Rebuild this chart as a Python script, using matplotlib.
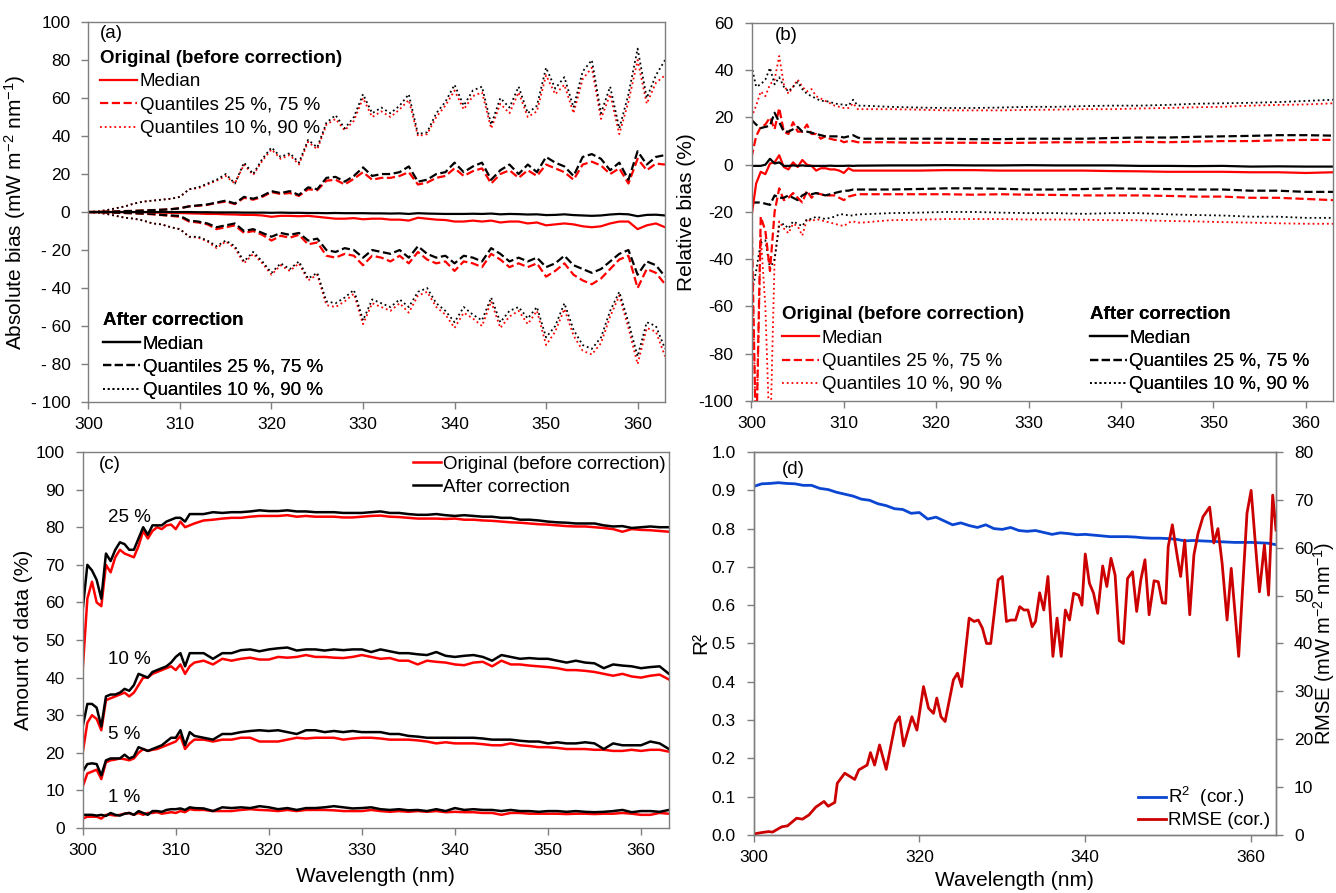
import numpy as np
import matplotlib
matplotlib.use('Agg')
import matplotlib.pyplot as plt
from matplotlib.lines import Line2D

plt.rcParams['font.family'] = ['Liberation Sans', 'DejaVu Sans']
plt.rcParams['mathtext.default'] = 'regular'
plt.rcParams['axes.unicode_minus'] = False

# ---------------- data: panel (a) absolute bias, 1 nm steps ----------------
wl_a = np.arange(300, 364)
a_q90_cor = [0, 0.3, 1, 2, 3, 4.5, 5.5, 6, 6.5, 7,
             8, 12, 13, 15, 17, 20, 15, 26, 20, 28,
             34, 29, 31, 26, 38, 34, 47, 51, 44, 50,
             62, 52, 55, 52, 56, 62, 41, 42, 52, 58,
             67, 56, 64, 66, 46, 60, 55, 66, 52, 56,
             76, 65, 71, 55, 74, 80, 52, 66, 44, 62,
             86, 60, 72, 80]
a_q90_orig = [0, 0.3, 1, 2, 3, 4.5, 5.5, 6, 6.5, 7,
              8, 12, 12.5, 14.5, 16.5, 19, 15, 25, 19.5, 27,
              33, 28, 30, 25, 37, 33, 46, 49, 43, 48,
              60, 50, 53, 50, 54, 59, 40, 41, 50, 56,
              64, 54, 61, 63, 44, 57, 52, 63, 50, 53,
              72, 62, 67, 52, 70, 76, 49, 62, 41, 58,
              80, 57, 68, 72]
a_q75_cor = [0, 0, 0.2, 0.3, 0.5, 0.6, 0.8, 1, 1.2, 1.5,
             2, 3, 3.5, 4, 5, 6, 4.5, 8, 7, 8.5,
             11, 10, 11, 9, 13, 12, 18, 18.5, 16, 19,
             23.5, 19, 20, 20, 21, 24, 16, 17, 20, 21,
             26, 21, 24, 26, 17, 22, 25, 20, 25, 21,
             29, 26, 24, 19, 29, 30.5, 28, 22, 26, 17,
             32, 25, 29, 30]
a_q75_orig = [0, 0, 0.2, 0.3, 0.5, 0.6, 0.8, 1, 1.2, 1.5,
              2, 3, 3.3, 3.8, 4.8, 5.5, 4.2, 7.5, 6.5, 8,
              10.5, 9.5, 10, 8.5, 12, 11.5, 16.5, 17, 14.5, 17.5,
              21, 17, 18, 18, 19, 21, 14.5, 15.5, 18, 19,
              23, 19, 21.5, 23, 15, 20, 22, 18, 22, 19,
              25, 23, 21, 17, 25, 26.5, 24.5, 20, 23, 15,
              28, 22, 25.5, 25]
a_q25_cor = [0, 0, -0.2, -0.3, -0.5, -0.6, -0.8, -1, -1.5, -1.8,
             -2, -4.5, -5, -6, -8, -7, -6, -10, -9, -11,
             -13, -11, -12, -11, -15, -14, -20, -21, -19, -20,
             -24, -20, -21, -22, -20, -24, -18, -22, -24, -23,
             -27, -23, -24, -26, -19, -22, -26, -24, -26, -24,
             -29, -27, -23, -28, -30, -32, -30, -26, -22, -20,
             -33, -26, -28, -34]
a_q25_orig = [0, 0, -0.2, -0.3, -0.5, -0.7, -0.9, -1.2, -1.6, -2,
              -2.5, -5, -5.5, -6.5, -9, -8, -7, -11, -10, -12,
              -15, -12.5, -13.5, -12, -17, -16, -23, -24, -22, -23,
              -28, -23, -24, -26, -23, -27, -21, -25, -27, -26,
              -31, -26, -27, -29, -22, -25, -29, -27, -29, -27,
              -34, -31, -27, -33, -36, -38, -35, -30, -25, -23,
              -40, -30, -32, -38]
a_q10_cor = [0, -0.3, -1, -2, -3, -3.5, -4.5, -6, -6.5, -8,
             -9, -13, -13, -15, -18, -15, -18, -26, -21, -26,
             -32, -27, -30, -26, -35, -32, -47, -48, -45, -41,
             -57, -46, -48, -50, -46, -50, -42, -40, -48, -52,
             -58, -50, -54, -57, -45, -58, -52, -50, -56, -50,
             -66, -60, -48, -62, -70, -72, -66, -52, -42, -58,
             -76, -58, -60, -72]
a_q10_orig = [0, -0.3, -1, -2, -3, -3.5, -4.5, -6, -6.5, -8,
              -9, -13, -13.5, -15.5, -19, -15.5, -19, -27, -22, -27,
              -33, -28, -31, -27, -36, -33, -49, -50, -47, -43,
              -59, -48, -50, -52, -48, -53, -44, -42, -50, -54,
              -61, -53, -56, -60, -47, -61, -55, -52, -59, -52,
              -70, -63, -51, -65, -73, -75, -69, -55, -44, -61,
              -80, -61, -63, -76]
a_med_orig = [0, 0, 0, 0, 0, 0, 0, -0.2, -0.3, -0.4,
              -0.5, -0.7, -0.8, -1, -1, -1.2, -1.3, -1.5, -1.5, -1.8,
              -2.5, -2, -2, -2.2, -2, -2.5, -3, -3.5, -3.5, -3.2,
              -3.8, -3.5, -3.5, -4, -4, -4.5, -3, -3.5, -4, -4.2,
              -5, -5, -4.5, -5, -4.5, -5.5, -5, -5, -6, -5.5,
              -7, -6.5, -6, -6.5, -7.5, -8, -7.5, -6, -5, -5,
              -9, -7, -6, -8]
a_med_cor = [0, 0, 0, 0, 0, 0, 0, 0, 0, 0,
             0, 0, -0.1, -0.1, -0.2, -0.2, -0.2, -0.3, -0.3, -0.3,
             -0.4, -0.3, -0.4, -0.4, -0.5, -0.5, -0.6, -0.5, -0.6, -0.6,
             -0.6, -0.7, -0.7, -0.8, -0.7, -1, -0.6, -0.8, -0.9, -1,
             -1, -1, -0.9, -1, -0.8, -1.2, -1, -1.1, -1.3, -1.2,
             -1.6, -1.5, -1.2, -1.6, -1.8, -2, -1.8, -1.3, -1, -1.2,
             -2.2, -1.5, -1.4, -1.8]
a_yticks = [-100, -80, -60, -40, -20, 0, 20, 40, 60, 80, 100]
a_yticklabels = ['- 100', '- 80', '- 60', '- 40', '- 20', '0', '20', '40', '60', '80', '100']

# ---------------- data: panel (b) relative bias ----------------
wl_b = np.concatenate([np.arange(300, 312.5, 0.5), np.arange(315, 364, 3)])
b_med_cor = [-0.5, -0.5, -0.5, 0, 2.5, 0.5, 1, -0.5, -0.5, -0.3, -0.5, -0.3, -0.5,
             -0.5, -0.5, -0.5, -0.5, -0.4, -0.5, -0.5, -0.5, -0.4, -0.5, -0.4, -0.4,
             -0.3, -0.3, -0.2, -0.3, -0.3, -0.2, -0.3, -0.3, -0.3, -0.5, -0.5, -0.6,
             -0.5, -0.8, -0.7, -0.8, -0.8]
b_med_orig = [-22, -8, -3, -4, 0.5, 1, 4, -1, -2, 1, -1, 2, 0,
              -0.5, -2.5, -1.5, -1.5, -2, -2, -2.5, -3.5, -1.5, -2.5, -2.5, -2.5,
              -2.5, -2.5, -2.3, -2.3, -2.5, -2.5, -2.5, -2.5, -2.7, -2.8, -3, -3,
              -3, -3.2, -3.2, -3.5, -3.2]
b_q75_cor = [19, 17, 15.5, 16, 16.5, 22, 18, 14, 14, 15, 16, 14, 14,
             13.5, 13, 12.5, 12, 12, 12, 12, 11.5, 12, 12.5, 11.5, 11,
             11, 11, 11, 10.8, 10.8, 11, 11, 11, 11.3, 11.5, 11.5, 11.8,
             12, 12.2, 12.5, 12.5, 12.3]
b_q75_orig = [3, 12, 16, 17, 20, 15, 24, 14, 13, 18, 14, 14, 17,
              13, 13, 11, 12, 11, 10.5, 10.5, 9.5, 10, 10, 9.5, 9.5,
              9.5, 9.3, 9.3, 9.3, 9.2, 9.3, 9.5, 9.5, 9.5, 9.7, 9.5, 9.8,
              10, 10, 10.3, 10.5, 10.5]
b_q25_cor = [-16, -16, -16, -16.5, -17, -13, -14, -14, -13, -14, -15, -13, -12,
             -12.5, -12, -12.5, -13, -12.5, -12, -11.5, -11, -11, -10.5, -10.5, -10.5,
             -10.5, -10.3, -10, -10, -10.2, -10.5, -10.5, -10.3, -10, -10.2, -10.3, -10.5,
             -10.5, -11, -11, -11.5, -11.5]
b_q25_orig = [-20, -120, -22, -28, -45, -20, -10, -15, -14, -12, -14, -16, -11,
              -14, -12, -12.5, -13, -13, -13, -14, -15, -13.5, -13, -12.5, -12.5,
              -12.5, -12.5, -12.5, -12.7, -12.5, -12.7, -12.8, -13, -13, -13, -13.2, -13.5,
              -13.5, -14, -14, -14.5, -15]
b_q90_cor = [42, 33, 34, 36, 41, 34, 37, 33, 31, 33, 35, 32, 30,
             29, 28, 27, 27, 26.5, 26, 25.5, 25.5, 25, 27.5, 25, 25,
             24.5, 24.2, 24, 24, 24.2, 24.5, 24.5, 24.8, 25, 25, 25.3, 25.8,
             26, 26.2, 26.5, 27, 27.5]
b_q90_orig = [20, 25, 31, 29, 34, 36, 46, 34, 30, 33, 36, 33, 31,
              32, 29, 28, 27, 26, 25, 24.5, 24, 24, 26, 23.5, 23.5,
              23.5, 23.3, 23, 23, 23, 23.2, 23.3, 23.5, 23.5, 23.8, 24, 24.3,
              24.5, 25, 25.3, 25.5, 26]
b_q10_cor = [-55, -45, -33, -32, -44, -40, -26, -25, -27, -24, -25, -26, -23,
             -23, -22, -22.5, -23, -22.5, -22, -21, -21, -21.5, -21.5, -21, -21,
             -20.5, -20.3, -20, -20, -20.3, -20.5, -20.5, -20.8, -20.5, -20.5, -21, -21.3,
             -21.5, -22, -22, -22.5, -22.5]
b_q10_orig = [-25, -120, -30, -60, -120, -40, -24, -27, -29, -25, -26, -30, -23,
              -24, -23, -23.5, -24, -24.5, -25, -25.5, -26, -24.5, -24, -24.5, -24.5,
              -23.5, -23.3, -23, -23, -23, -23.2, -23.2, -23.3, -23.5, -23.5, -23.8, -24,
              -24.3, -24.5, -24.8, -25, -25]

# ---------------- data: panel (c) amount of data ----------------
wl_c = np.concatenate([np.arange(300, 312.5, 0.5), np.arange(313, 364, 1)])
c25_cor = [58, 70, 68.5, 66, 61, 73, 71, 74, 76, 75.5, 74, 74, 77, 80, 78, 80.5, 80.5,
           80.5, 81.5, 82, 82.5, 82.5, 81.5, 83.5, 83.5,
           83.5, 84, 83.8, 84, 84, 84.2, 84.5, 84.3, 84.3, 84.5,
           84.2, 84.2, 84, 84, 84, 83.8, 83.8, 83.8, 84, 84.2,
           83.8, 83.8, 83.5, 83.3, 83.3, 83.5, 83.2, 83, 83.2, 83,
           82.8, 82.8, 82.5, 82.5, 82, 82, 81.8, 81.5, 81.3, 81.2,
           81, 81, 81, 80.5, 80.2, 80.3, 79.8, 80, 80.2, 80, 80]
c25_orig = [42, 61, 65.5, 60, 59, 70, 68, 72, 74, 73, 72.5, 72, 75, 79, 77, 79, 80,
            79.5, 80.5, 80.7, 79.5, 81.5, 80, 80.5, 81,
            81.8, 82, 82.3, 82.5, 82.5, 82.8, 83, 83, 83, 83.2,
            82.8, 83, 82.8, 82.8, 82.8, 82.6, 82.6, 82.8, 83, 83.1,
            82.8, 82.7, 82.5, 82.3, 82.3, 82.3, 82.2, 82.3, 82, 82,
            81.8, 81.7, 81.5, 81.3, 81.2, 81, 80.8, 80.7, 80.5, 80.3,
            80.2, 80.2, 80, 79.8, 79.5, 78.8, 79.5, 79.3, 79.2, 79, 78.8]
c10_cor = [27, 33, 33, 32, 27, 35, 35.5, 35.5, 36, 37, 36.5, 38, 41, 40.5, 40, 41.5, 42,
           42.5, 43, 44, 45.5, 46.5, 43, 46.5, 46.5,
           46.5, 45, 46.5, 46.5, 47.3, 47.5, 47, 47.5, 47.8, 48,
           47.2, 47.5, 47.5, 47.2, 47.5, 47.3, 47.5, 47.5, 46.8, 47.5,
           47, 46.5, 46.5, 46.2, 46, 46.8, 45.8, 45.5, 45.8, 46,
           45.5, 44.5, 46, 45.5, 45, 45.2, 45, 45, 44.5, 44,
           44.5, 44, 43.8, 42.5, 43.5, 43.2, 43, 42.5, 42.8, 43, 41]
c10_orig = [20, 28, 30, 29, 26, 34, 34.5, 35, 35.5, 36, 35, 36, 38, 40, 40, 41, 41.5,
            42, 42.5, 43, 42, 43.5, 41, 43, 44,
            44.5, 43.5, 45, 44.5, 45, 45.3, 44.8, 44.8, 45.5, 45.3,
            45.5, 46, 45.5, 45.5, 45.3, 45.2, 45.5, 46, 45.5, 45,
            45.2, 44.5, 44.5, 43.5, 44.5, 44.2, 44, 43.5, 43.3, 44,
            44.2, 43, 44.5, 43.5, 43.5, 43.2, 43, 42.8, 42.5, 42,
            42, 41.8, 41.5, 41, 40.5, 41, 40.3, 40, 40.5, 40.8, 39.5]
c5_cor = [15, 17, 17.2, 17, 14, 18, 18.5, 18.5, 18.5, 19.5, 18.5, 19, 21.5, 21, 20.5, 21,
          21.5, 22, 23, 24, 24, 26, 22, 25.5, 24.5,
          24, 23.5, 25, 25, 25.5, 25.8, 26, 25.8, 26, 25.5,
          25, 26, 26, 25.5, 25.8, 25.5, 25.8, 25.5, 25.5, 25.5,
          25, 25, 24.5, 24.3, 24, 24, 24, 24, 24, 24,
          23.8, 23.5, 23.5, 23.5, 23.2, 23, 23, 22.5, 22.8, 22.5,
          22.5, 22.8, 22.5, 21, 22.5, 22, 22, 22, 23, 22.5, 21]
c5_orig = [11, 14.5, 15, 15.5, 13, 17.5, 18, 18.2, 18.5, 18.3, 18, 18.5, 20, 21, 20.5, 20.8,
           21, 21.5, 22, 22.5, 23, 24.5, 21, 22.5, 23.5,
           23.5, 23, 23.5, 23.5, 24, 24, 23, 23, 23, 23.5,
           24, 23.8, 24, 24, 24, 23.5, 23.8, 24, 24, 23.8,
           23.5, 23.5, 23.5, 23.3, 23, 22.5, 22.8, 22.5, 22.5, 22.5,
           22.3, 22, 22, 22.5, 22, 21.8, 21.5, 21.5, 21.3, 21,
           21, 21, 20.8, 20.8, 20.5, 20.5, 20.8, 20.5, 20.8, 20.8, 20.3]
c1_cor = [3.5, 3.5, 3.5, 3.3, 3.5, 3.2, 4, 3.5, 3.3, 3.8, 4, 3.5, 4.5, 4, 3.5, 4.5, 4.5,
          4.3, 4.8, 5, 5, 5.2, 4.8, 5.5, 5.3,
          5.2, 4.5, 5.5, 5.3, 5.5, 5.3, 5.8, 5.5, 5, 5.3,
          4.8, 5.3, 5.3, 5.5, 5.8, 5.5, 5.2, 5.3, 5.5, 5,
          4.8, 5, 4.7, 4.8, 4.5, 5, 4.5, 5.3, 4.8, 5,
          4.8, 4.8, 4.5, 4.8, 4.5, 4.5, 4.3, 4.5, 4.5, 4.3,
          4.5, 4.3, 4.2, 4.3, 4.5, 4.8, 4.2, 4.5, 4.5, 4.3, 4.8]
c1_orig = [2.5, 3, 3, 3, 2.5, 3.5, 3.5, 3.3, 3.5, 3.8, 4, 3.5, 4, 3.5, 4, 4, 4.2,
           3.8, 4, 4.2, 4, 4.5, 4.2, 5, 4.8,
           4.8, 4.5, 4.5, 4.5, 4.8, 5, 4.8, 4.7, 4.5, 4.8,
           4.5, 4.8, 4.8, 4.8, 4.7, 4.5, 4.5, 4.5, 4.8, 4.5,
           4.3, 4.5, 4.3, 4.5, 4.3, 4.5, 4.2, 4.3, 4.2, 4.2,
           4, 4, 3.5, 4, 4, 3.8, 3.8, 3.8, 3.8, 3.7,
           3.8, 3.8, 3.7, 3.8, 3.8, 4, 3.8, 3.5, 3.5, 4, 3.8]
c_labels = ['25 %', '10 %', '5 %', '1 %']
c_label_y = [82.7, 44.7, 25, 8.2]

# ---------------- data: panel (d) R2 and RMSE ----------------
wl_d = np.arange(300, 364)
r2_cor = [0.910, 0.917, 0.918, 0.920, 0.918, 0.917, 0.913, 0.913, 0.905, 0.902,
          0.895, 0.890, 0.885, 0.877, 0.874, 0.865, 0.860, 0.852, 0.850, 0.840,
          0.842, 0.825, 0.830, 0.820, 0.810, 0.815, 0.808, 0.803, 0.810, 0.800,
          0.798, 0.803, 0.795, 0.793, 0.795, 0.790, 0.785, 0.789, 0.787, 0.784,
          0.785, 0.783, 0.781, 0.779, 0.779, 0.779, 0.778, 0.776, 0.775, 0.775,
          0.774, 0.772, 0.768, 0.769, 0.768, 0.767, 0.766, 0.765, 0.764, 0.764,
          0.764, 0.763, 0.762, 0.758]
rmse_wl = [300, 301, 301.8, 302.3, 303.4, 304.1, 305.2, 305.9, 306.7, 307.5, 308.5, 309,
           309.8, 310.1, 311, 312.2, 312.7, 313.7, 314.1, 314.6, 315.2, 316, 317.1, 317.6,
           318.1, 319.1, 319.7, 320.5, 321.1, 321.7, 322.1, 322.6, 323.1, 324.1, 324.6,
           325.1, 326, 326.6, 327.1, 327.6, 328.1, 328.6, 329.5, 330, 330.5, 331, 331.6,
           332.1, 332.6, 333.1, 333.6, 334, 334.5, 335, 335.5, 336.1, 336.6, 337.1, 337.6,
           338.1, 338.6, 339.2, 339.6, 340, 340.5, 341, 341.5, 342.1, 342.6, 343.1, 343.6,
           344.1, 344.6, 345.1, 345.7, 346.2, 346.7, 347.2, 347.7, 348.3, 348.8, 349.3,
           349.7, 350, 350.5, 351.1, 351.5, 352, 352.6, 353.1, 353.6, 354.2, 355, 355.5,
           356, 356.5, 357.1, 357.6, 358.5, 359.5, 360, 360.7, 361, 361.6, 362.1, 362.6, 363]
rmse_cor = [0.2, 0.5, 0.7, 0.6, 1.7, 1.9, 3.5, 3.3, 4.2, 5.8, 7, 6,
            6.8, 10.8, 12.9, 11.6, 13.6, 14.6, 17.2, 14.6, 18.8, 13.7, 23.3, 24.7,
            18.6, 24.7, 21.9, 31, 26.5, 25.4, 28.6, 24.7, 23.7, 32.4, 33.8,
            31, 45.3, 44.6, 44.9, 43.2, 40, 40, 53.3, 54, 44.6, 44.9, 44.9,
            47.7, 47, 47, 43.5, 44.6, 50.6, 47, 54, 37.3, 45.3, 37.3, 47,
            44.9, 50.5, 50.1, 48, 58.7, 52.6, 50.5, 46.3, 56.2, 51.9, 57.8, 54.3,
            40.6, 40, 53.6, 55, 46.7, 53.3, 57.5, 46, 53.1, 52.9, 48.5,
            48.4, 60.2, 64.8, 58.1, 54, 61.6, 46, 58.5, 63, 66.5, 68.5, 61,
            64, 56.8, 44.9, 55.7, 37.3, 67.2, 72, 56.8, 50.8, 60.6, 50.1, 71, 63.7]

# ---------------- style ----------------
RED = '#FF0000'
BLACK = '#000000'
BLUE = '#0A46D2'
DRED = '#CC0000'
SPINE = '#7F7F7F'
TICK_FS = 12.5
LAB_FS = 15
LEG_FS = 13.5
LW = 1.6
LWD = 1.3


def style_axes(ax):
    for s in ax.spines.values():
        s.set_color(SPINE)
        s.set_linewidth(1.0)
    ax.tick_params(axis='both', which='major', direction='out', length=5,
                   width=1.0, color=SPINE, labelsize=TICK_FS, labelcolor='black')
    ax.tick_params(axis='y', pad=8)
    ax.tick_params(axis='x', pad=6)


fig = plt.figure(figsize=(13.36, 8.93), dpi=100)
ax_a = fig.add_axes([0.0662, 0.5498, 0.4316, 0.4255])
ax_b = fig.add_axes([0.5625, 0.5510, 0.4356, 0.4233])
ax_c = fig.add_axes([0.0619, 0.0728, 0.4388, 0.4210])
ax_d = fig.add_axes([0.5640, 0.0650, 0.3911, 0.4288])

# ---------- panel (a) ----------
ax = ax_a
ax.plot(wl_a, a_q10_orig, color=RED, ls=':', lw=LWD)
ax.plot(wl_a, a_q90_orig, color=RED, ls=':', lw=LWD)
ax.plot(wl_a, a_q10_cor, color=BLACK, ls=':', lw=LWD)
ax.plot(wl_a, a_q90_cor, color=BLACK, ls=':', lw=LWD)
ax.plot(wl_a, a_q25_orig, color=RED, ls='--', lw=LW)
ax.plot(wl_a, a_q75_orig, color=RED, ls='--', lw=LW)
ax.plot(wl_a, a_q25_cor, color=BLACK, ls='--', lw=LW)
ax.plot(wl_a, a_q75_cor, color=BLACK, ls='--', lw=LW)
ax.plot(wl_a, a_med_orig, color=RED, ls='-', lw=LW)
ax.plot(wl_a, a_med_cor, color=BLACK, ls='-', lw=LW)
ax.set_xlim(300, 363)
ax.set_ylim(-100, 100)
ax.set_xticks(range(300, 361, 10))
ax.set_yticks(a_yticks)
ax.set_yticklabels(a_yticklabels)
ax.set_ylabel('Absolute bias (mW m$^{-2}$ nm$^{-1}$)', fontsize=LAB_FS, labelpad=2)
style_axes(ax)
ax.text(0.02, 0.971, '(a)', transform=ax.transAxes, fontsize=LEG_FS, va='center', ha='left')

labels3 = ['Median', 'Quantiles 25 %, 75 %', 'Quantiles 10 %, 90 %']


def handles(color):
    return [Line2D([], [], color=color, ls='-', lw=LW),
            Line2D([], [], color=color, ls='--', lw=LW),
            Line2D([], [], color=color, ls=':', lw=LWD)]


def make_leg(ax, color, title, anchor):
    leg = ax.legend(handles(color), labels3, title=title,
                    title_fontproperties={'weight': 'bold', 'size': LEG_FS},
                    alignment='left', loc='upper left', bbox_to_anchor=anchor,
                    frameon=False, fontsize=LEG_FS, handlelength=2.0,
                    handletextpad=0.12, labelspacing=0.33, borderpad=0,
                    borderaxespad=0)
    ax.add_artist(leg)
    return leg


make_leg(ax_a, RED, 'Original (before correction)', (0.02, 0.926))
make_leg(ax_a, BLACK, 'After correction', (0.025, 0.236))

# ---------- panel (b) ----------
ax = ax_b
ax.plot(wl_b, b_q10_orig, color=RED, ls=':', lw=LWD)
ax.plot(wl_b, b_q90_orig, color=RED, ls=':', lw=LWD)
ax.plot(wl_b, b_q10_cor, color=BLACK, ls=':', lw=LWD)
ax.plot(wl_b, b_q90_cor, color=BLACK, ls=':', lw=LWD)
ax.plot(wl_b, b_q25_orig, color=RED, ls='--', lw=LW)
ax.plot(wl_b, b_q75_orig, color=RED, ls='--', lw=LW)
ax.plot(wl_b, b_q25_cor, color=BLACK, ls='--', lw=LW)
ax.plot(wl_b, b_q75_cor, color=BLACK, ls='--', lw=LW)
ax.plot(wl_b, b_med_orig, color=RED, ls='-', lw=LW)
ax.plot(wl_b, b_med_cor, color=BLACK, ls='-', lw=LW)
ax.set_xlim(300, 363)
ax.set_ylim(-100, 60)
ax.set_xticks(range(300, 361, 10))
ax.set_yticks(range(-100, 61, 20))
ax.set_ylabel('Relative bias (%)', fontsize=LAB_FS, labelpad=2)
style_axes(ax)
ax.text(0.04, 0.968, '(b)', transform=ax.transAxes, fontsize=LEG_FS, va='center', ha='left')
make_leg(ax_b, RED, 'Original (before correction)', (0.052, 0.250))
make_leg(ax_b, BLACK, 'After correction', (0.581, 0.250))

# ---------- panel (c) ----------
ax = ax_c
LWC = 1.8
ax.plot(wl_c, c25_orig, color=RED, lw=LWC)
ax.plot(wl_c, c10_orig, color=RED, lw=LWC)
ax.plot(wl_c, c5_orig, color=RED, lw=LWC)
ax.plot(wl_c, c1_orig, color=RED, lw=LWC)
ax.plot(wl_c, c25_cor, color=BLACK, lw=LWC)
ax.plot(wl_c, c10_cor, color=BLACK, lw=LWC)
ax.plot(wl_c, c5_cor, color=BLACK, lw=LWC)
ax.plot(wl_c, c1_cor, color=BLACK, lw=LWC)
ax.set_xlim(300, 363)
ax.set_ylim(0, 100)
ax.set_xticks(range(300, 361, 10))
ax.set_yticks(range(0, 101, 10))
ax.set_ylabel('Amount of data (%)', fontsize=LAB_FS, labelpad=2)
ax.set_xlabel('Wavelength (nm)', fontsize=LAB_FS, labelpad=6)
style_axes(ax)
ax.text(0.027, 0.968, '(c)', transform=ax.transAxes, fontsize=LEG_FS, va='center', ha='left')
for lab, yv in zip(c_labels, c_label_y):
    ax.text(302.7, yv, lab, fontsize=LEG_FS, ha='left', va='center')
ax.legend([Line2D([], [], color=RED, lw=LWC), Line2D([], [], color=BLACK, lw=LWC)],
          ['Original (before correction)', 'After correction'],
          loc='upper right', bbox_to_anchor=(1.0, 1.0), frameon=False, fontsize=LEG_FS,
          handlelength=1.5, handletextpad=0.1, labelspacing=0.3, borderpad=0.1,
          borderaxespad=0.1)

# ---------- panel (d) ----------
ax = ax_d
l1, = ax.plot(wl_d, r2_cor, color=BLUE, lw=2.0)
ax.set_xlim(300, 363)
ax.set_ylim(0, 1.0)
ax.set_xticks([300, 320, 340, 360])
ax.set_yticks(np.arange(0, 1.01, 0.1))
ax.set_yticklabels(['%.1f' % v for v in np.arange(0, 1.01, 0.1)])
ax.set_ylabel('R²', fontsize=LAB_FS, labelpad=1)
ax.set_xlabel('Wavelength (nm)', fontsize=LAB_FS, labelpad=4)
style_axes(ax)
ax.text(0.055, 0.955, '(d)', transform=ax.transAxes, fontsize=LEG_FS, va='center', ha='left')
ax2 = ax.twinx()
l2, = ax2.plot(rmse_wl, rmse_cor, color=DRED, lw=2.0)
ax2.set_ylim(0, 80)
ax2.set_yticks(range(0, 81, 10))
ax2.set_ylabel('RMSE (mW m$^{-2}$ nm$^{-1}$)', fontsize=14.5)
style_axes(ax2)
ax2.yaxis.set_label_coords(1.068, 0.5)
ax2.legend([l1, l2], ['R$^{2}$  (cor.)', 'RMSE (cor.)'], loc='lower right',
           bbox_to_anchor=(0.995, 0.005), frameon=False, fontsize=LEG_FS,
           handlelength=1.45, handletextpad=0.1, labelspacing=0.15, borderpad=0.1,
           borderaxespad=0.1)

fig.savefig('out.png', dpi=100)
